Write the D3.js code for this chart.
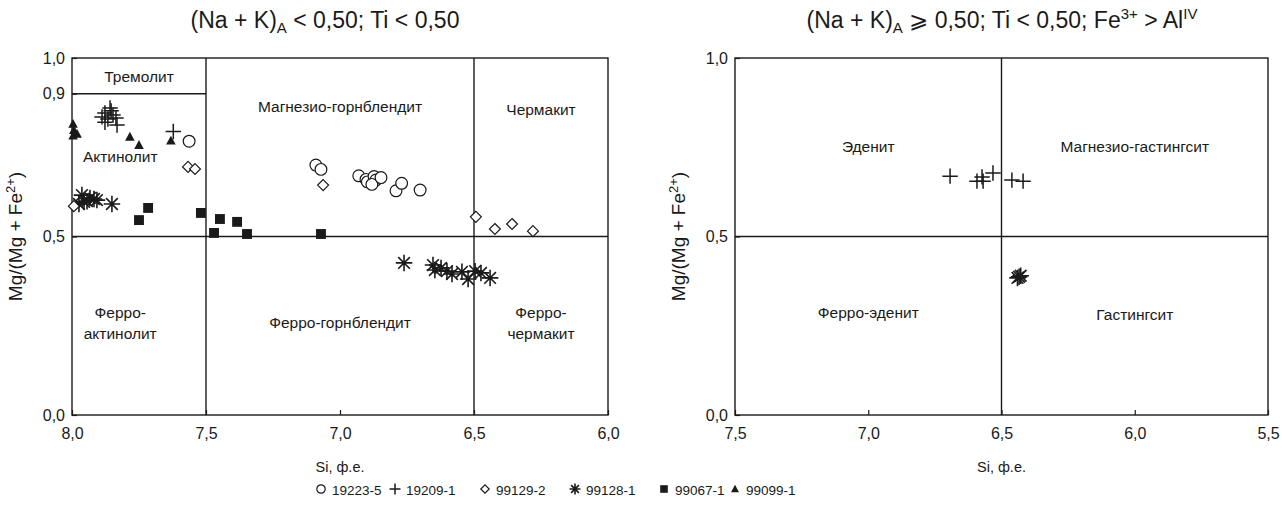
<!DOCTYPE html>
<html>
<head>
<meta charset="utf-8">
<script src="https://cdn.jsdelivr.net/npm/d3@7"></script>
<style>
  html, body { margin: 0; padding: 0; background: #fff; }
  svg { display: block; font-family: "Liberation Sans", Arial, sans-serif; }
</style>
</head>
<body>
<svg id="chart" width="1282" height="505"></svg>
<script>
// ---- Data: Si (formula units) and Mg/(Mg+Fe2+) for each sample ----
// Left diagram: (Na+K)A < 0.50
const s19223_si = [7.563, 7.090, 7.071, 6.930, 6.903, 6.898, 6.873, 6.866, 6.881, 6.847, 6.791, 6.770, 6.701];
const s19223_mg = [0.767, 0.700, 0.688, 0.670, 0.660, 0.653, 0.668, 0.658, 0.646, 0.665, 0.628, 0.649, 0.630];

const s19209_si = [7.888, 7.877, 7.866, 7.854, 7.847, 7.836, 7.832, 7.877, 7.858, 7.622];
const s19209_mg = [0.835, 0.846, 0.829, 0.852, 0.840, 0.832, 0.812, 0.820, 0.860, 0.794];

const s99129_si = [7.567, 7.541, 7.063, 6.493, 6.422, 6.358, 6.280, 7.993];
const s99129_mg = [0.695, 0.689, 0.644, 0.555, 0.521, 0.535, 0.515, 0.585];

const s99128_si = [7.963, 7.955, 7.974, 7.933, 7.918, 7.907, 7.851, 7.944,
                   6.761, 6.653, 6.646, 6.623, 6.601, 6.582, 6.545, 6.522, 6.496, 6.474, 6.440];
const s99128_mg = [0.616, 0.597, 0.591, 0.608, 0.605, 0.602, 0.591, 0.599,
                   0.426, 0.420, 0.406, 0.412, 0.403, 0.395, 0.401, 0.381, 0.403, 0.398, 0.384];

const s99067_si = [7.750, 7.716, 7.519, 7.470, 7.448, 7.384, 7.347, 7.071];
const s99067_mg = [0.546, 0.580, 0.566, 0.510, 0.549, 0.541, 0.507, 0.507];

const s99099_si = [7.996, 7.993, 7.981, 7.996, 7.784, 7.750, 7.631];
const s99099_mg = [0.815, 0.798, 0.787, 0.782, 0.779, 0.756, 0.768];

// Right diagram: (Na+K)A >= 0.50
const r19209_si = [6.693, 6.592, 6.569, 6.573, 6.532, 6.461, 6.419];
const r19209_mg = [0.669, 0.655, 0.655, 0.667, 0.678, 0.658, 0.655];

const r99128_si = [6.434, 6.440, 6.428];
const r99128_mg = [0.387, 0.384, 0.390];

// Tick values
const leftXTicks = [8.0, 7.5, 7.0, 6.5, 6.0];
const rightXTicks = [7.5, 7.0, 6.5, 6.0, 5.5];
const leftYTicks = [1.0, 0.9, 0.5, 0.0];
const rightYTicks = [1.0, 0.5, 0.0];

const legendNames = ["19223-5", "19209-1", "99129-2", "99128-1", "99067-1", "99099-1"];
const legendKinds = ["circle", "cross", "diamond", "star", "square", "triangle"];

const fmt = v => d3.format(".1f")(v).replace(".", ",");
const INK = "#1a1a1a";

const svg = d3.select("#chart");

// ---- Marker drawing ----
function marker(g, kind, size) {
  const s = size;
  if (kind === "circle") {
    g.append("circle").attr("r", s * 0.42).attr("fill", "#fff")
      .attr("stroke", INK).attr("stroke-width", 1.2);
  } else if (kind === "cross") {
    const h = s * 0.55;
    g.append("path").attr("d", `M${-h},0H${h}M0,${-h}V${h}`)
      .attr("stroke", INK).attr("stroke-width", 1.5).attr("fill", "none");
  } else if (kind === "diamond") {
    const h = s * 0.42;
    g.append("path").attr("d", `M0,${-h}L${h},0L0,${h}L${-h},0Z`)
      .attr("fill", "#fff").attr("stroke", INK).attr("stroke-width", 1.2);
  } else if (kind === "star") {
    const h = s * 0.55;
    let d = "";
    for (let i = 0; i < 4; i++) {
      const a = i * Math.PI / 4;
      const dx = h * Math.cos(a), dy = h * Math.sin(a);
      d += `M${-dx},${-dy}L${dx},${dy}`;
    }
    g.append("path").attr("d", d).attr("stroke", INK)
      .attr("stroke-width", 1.6).attr("fill", "none");
  } else if (kind === "square") {
    const h = s * 0.38;
    g.append("rect").attr("x", -h).attr("y", -h).attr("width", 2 * h).attr("height", 2 * h)
      .attr("fill", INK);
  } else if (kind === "triangle") {
    const h = s * 0.42;
    g.append("path").attr("d", `M0,${-h}L${h * 0.95},${h * 0.75}L${-h * 0.95},${h * 0.75}Z`)
      .attr("fill", INK);
  }
}

function plotSeries(layer, x, y, si, mg, kind, size) {
  const pts = si.map((v, i) => ({ si: v, mg: mg[i] }));
  layer.selectAll(null).data(pts).enter().append("g")
    .attr("transform", d => `translate(${x(d.si)},${y(d.mg)})`)
    .each(function () { marker(d3.select(this), kind, size); });
}

// ---- Panel builder ----
function panel(opts) {
  const { left, right, top, bottom, xDomain, xTicks, yTicks } = opts;
  const x = d3.scaleLinear().domain(xDomain).range([left, right]);
  const y = d3.scaleLinear().domain([0, 1]).range([bottom, top]);
  const g = svg.append("g");

  // bottom axis with inward ticks
  const xa = g.append("g").attr("transform", `translate(0,${bottom})`)
    .call(d3.axisBottom(x).tickValues(xTicks).tickSize(-5).tickPadding(13).tickFormat(fmt));
  xa.select(".domain").remove();
  xa.selectAll("line").attr("stroke", INK).attr("stroke-width", 1.2);
  xa.selectAll("text").attr("font-size", 16).attr("fill", INK)
    .attr("font-family", "Liberation Sans, Arial, sans-serif");

  const ya = g.append("g").attr("transform", `translate(${left},0)`)
    .call(d3.axisLeft(y).tickValues(yTicks).tickSize(-5).tickPadding(7).tickFormat(fmt));
  ya.select(".domain").remove();
  ya.selectAll("line").attr("stroke", INK).attr("stroke-width", 1.2);
  ya.selectAll("text").attr("font-size", 16).attr("fill", INK)
    .attr("font-family", "Liberation Sans, Arial, sans-serif");

  // frame
  g.append("rect").attr("x", left).attr("y", top)
    .attr("width", right - left).attr("height", bottom - top)
    .attr("fill", "none").attr("stroke", INK).attr("stroke-width", 1.4);

  // axis titles
  g.append("text").attr("x", (left + right) / 2).attr("y", bottom + 57)
    .attr("text-anchor", "middle").attr("font-size", 14.5).attr("fill", INK)
    .text("Si, ф.е.");

  const yl = g.append("text")
    .attr("transform", `translate(${left - 50},${(top + bottom) / 2}) rotate(-90)`)
    .attr("text-anchor", "middle").attr("font-size", 19).attr("fill", INK);
  yl.append("tspan").text("Mg/(Mg + Fe");
  yl.append("tspan").attr("font-size", 13).attr("dy", -7).text("2+");
  yl.append("tspan").attr("dy", 7).text(")");

  return { g, x, y };
}

// ---- Left panel ----
const L = panel({ left: 72, right: 608, top: 58, bottom: 415,
                  xDomain: [8.0, 6.0], xTicks: leftXTicks, yTicks: leftYTicks });

const lineStyle = sel => sel.attr("stroke", INK).attr("stroke-width", 1.4);
// field boundaries
lineStyle(L.g.append("line").attr("x1", L.x(8.0)).attr("x2", L.x(7.5))
  .attr("y1", L.y(0.9)).attr("y2", L.y(0.9)));
lineStyle(L.g.append("line").attr("x1", L.x(8.0)).attr("x2", L.x(6.0))
  .attr("y1", L.y(0.5)).attr("y2", L.y(0.5)));
lineStyle(L.g.append("line").attr("x1", L.x(7.5)).attr("x2", L.x(7.5))
  .attr("y1", L.y(1.0)).attr("y2", L.y(0.0)));
lineStyle(L.g.append("line").attr("x1", L.x(6.5)).attr("x2", L.x(6.5))
  .attr("y1", L.y(1.0)).attr("y2", L.y(0.0)));

function fieldLabel(P, si, mg, lines) {
  const t = P.g.append("text").attr("text-anchor", "middle").attr("font-size", 15.5)
    .attr("fill", INK).attr("x", P.x(si)).attr("y", P.y(mg));
  lines.forEach((ln, i) => t.append("tspan").attr("x", P.x(si)).attr("dy", i === 0 ? 0 : 21).text(ln));
}
fieldLabel(L, 7.75, 0.933, ["Тремолит"]);
fieldLabel(L, 7.82, 0.709, ["Актинолит"]);
fieldLabel(L, 7.0, 0.849, ["Магнезио-горнблендит"]);
fieldLabel(L, 6.25, 0.840, ["Чермакит"]);
fieldLabel(L, 7.82, 0.272, ["Ферро-", "актинолит"]);
fieldLabel(L, 7.0, 0.244, ["Ферро-горнблендит"]);
fieldLabel(L, 6.25, 0.272, ["Ферро-", "чермакит"]);

const lp = L.g.append("g");
plotSeries(lp, L.x, L.y, s99067_si, s99067_mg, "square", 13);
plotSeries(lp, L.x, L.y, s99099_si, s99099_mg, "triangle", 12);
plotSeries(lp, L.x, L.y, s99128_si, s99128_mg, "star", 15);
plotSeries(lp, L.x, L.y, s99129_si, s99129_mg, "diamond", 13);
plotSeries(lp, L.x, L.y, s19223_si, s19223_mg, "circle", 14);
plotSeries(lp, L.x, L.y, s19209_si, s19209_mg, "cross", 14);

// ---- Right panel ----
const R = panel({ left: 735, right: 1268, top: 58, bottom: 415,
                  xDomain: [7.5, 5.5], xTicks: rightXTicks, yTicks: rightYTicks });
lineStyle(R.g.append("line").attr("x1", R.x(7.5)).attr("x2", R.x(5.5))
  .attr("y1", R.y(0.5)).attr("y2", R.y(0.5)));
lineStyle(R.g.append("line").attr("x1", R.x(6.5)).attr("x2", R.x(6.5))
  .attr("y1", R.y(1.0)).attr("y2", R.y(0.0)));

fieldLabel(R, 7.0, 0.737, ["Эденит"]);
fieldLabel(R, 6.0, 0.737, ["Магнезио-гастингсит"]);
fieldLabel(R, 7.0, 0.272, ["Ферро-эденит"]);
fieldLabel(R, 6.0, 0.266, ["Гастингсит"]);

const rp = R.g.append("g");
plotSeries(rp, R.x, R.y, r99128_si, r99128_mg, "star", 15);
plotSeries(rp, R.x, R.y, r19209_si, r19209_mg, "cross", 14);

// ---- Titles ----
function title(cx, parts) {
  const t = svg.append("text").attr("x", cx).attr("y", 28).attr("text-anchor", "middle")
    .attr("font-size", 23).attr("fill", INK);
  parts.forEach(p => {
    const s = t.append("tspan").text(p.t);
    if (p.sub) s.attr("font-size", 15).attr("dy", 5);
    if (p.sup) s.attr("font-size", 15).attr("dy", -9);
    if (p.back) s.attr("dy", p.back);
  });
}
title(325, [
  { t: "(Na + K)" }, { t: "A", sub: true }, { t: " < 0,50; Ti < 0,50", back: -5 }
]);
title(1002, [
  { t: "(Na + K)" }, { t: "A", sub: true }, { t: " ⩾ 0,50; Ti < 0,50; Fe", back: -5 },
  { t: "3+", sup: true }, { t: " > Al", back: 9 }, { t: "IV", sup: true }
]);

// ---- Legend ----
const legendX = [321, 395, 485, 575, 664, 735];
const lg = svg.append("g").attr("transform", "translate(0,490)");
legendNames.forEach((name, i) => {
  const item = lg.append("g").attr("transform", `translate(${legendX[i]},0)`);
  marker(item.append("g").attr("transform", "translate(0,-1)"), legendKinds[i], 10);
  item.append("text").attr("x", 11).attr("y", 4.5).attr("font-size", 13.5).attr("fill", INK).text(name);
});
</script>
</body>
</html>
